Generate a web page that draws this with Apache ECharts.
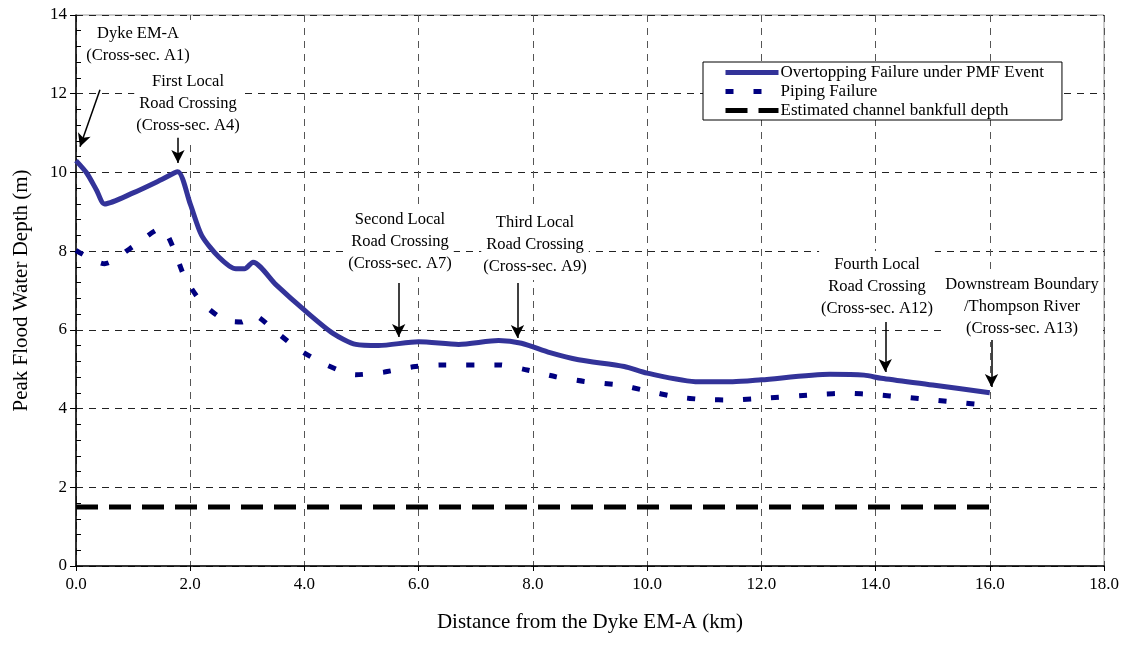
<!DOCTYPE html>
<html>
<head>
<meta charset="utf-8">
<script src="https://cdn.jsdelivr.net/npm/echarts@6/dist/echarts.min.js"></script>
<style>html,body{margin:0;padding:0;background:#fff}#c{width:1132px;height:646px}</style>
</head>
<body>
<div id="c"></div>
<script>
// ---- data ----
const seriesNames = ['Overtopping Failure under PMF Event', 'Piping Failure', 'Estimated channel bankfull depth'];
const overtoppingX = [0, 0.19, 0.36, 0.5, 1.0, 1.5, 1.78, 2.0, 2.2, 2.5, 2.8, 2.95, 3.1, 3.5, 4.0, 4.5, 4.9, 5.3, 6.0, 6.7, 7.4, 7.8, 8.3, 8.8, 9.6, 10.0, 10.9, 11.5, 12.0, 13.2, 13.8, 14.1, 15.0, 16.0];
const overtoppingY = [10.3, 9.98, 9.55, 9.2, 9.48, 9.82, 10.02, 9.2, 8.4, 7.85, 7.55, 7.55, 7.72, 7.15, 6.5, 5.91, 5.63, 5.6, 5.7, 5.63, 5.73, 5.66, 5.42, 5.24, 5.07, 4.9, 4.68, 4.68, 4.73, 4.87, 4.85, 4.77, 4.6, 4.4];
const pipingX = [0, 0.5, 1.0, 1.5, 1.7, 1.9, 2.2, 2.6, 2.9, 3.1, 3.5, 3.9, 4.4, 4.9, 5.4, 5.9, 6.4, 7.4, 7.9, 8.4, 8.9, 9.5, 10.0, 10.5, 11.0, 11.5, 12.0, 13.0, 13.5, 14.0, 14.5, 15.0, 15.5, 16.0];
const pipingY = [8.02, 7.68, 8.12, 8.58, 8.1, 7.35, 6.7, 6.25, 6.2, 6.38, 5.95, 5.5, 5.1, 4.86, 4.93, 5.06, 5.11, 5.11, 4.98, 4.81, 4.69, 4.6, 4.45, 4.3, 4.23, 4.22, 4.26, 4.36, 4.39, 4.35, 4.29, 4.22, 4.15, 4.08];
const bankfullX = [0, 16];
const bankfullY = [1.5, 1.5];
const xTicks = [0, 2, 4, 6, 8, 10, 12, 14, 16, 18];
const yTicks = [0, 2, 4, 6, 8, 10, 12, 14];
// annotation texts and arrow (from -> to) in data units
const annoLabels = [
  'Dyke EM-A\n(Cross-sec. A1)',
  'First Local\nRoad Crossing\n(Cross-sec. A4)',
  'Second Local\nRoad Crossing\n(Cross-sec. A7)',
  'Third Local\nRoad Crossing\n(Cross-sec. A9)',
  'Fourth Local\nRoad Crossing\n(Cross-sec. A12)',
  'Downstream Boundary\n/Thompson River\n(Cross-sec. A13)'
];
const arrowFromX = [0.42, 1.785, 5.65, 7.73, 14.17, 16.03];
const arrowFromY = [12.1, 10.88, 7.19, 7.19, 6.2, 5.74];
const arrowToX = [0.07, 1.785, 5.65, 7.73, 14.17, 16.03];
const arrowToY = [10.65, 10.24, 5.82, 5.79, 4.93, 4.55];

const zip = (xs, ys) => xs.map((x, i) => [x, ys[i]]);
const FONT = '"Liberation Serif", "Times New Roman", serif';

// label pixel anchors (center x, top y of the white text box)
const labelPos = [[138, 20], [188, 68], [400, 206], [535, 209], [877, 251], [1022, 271]];

const chart = echarts.init(document.getElementById('c'), null, {renderer: 'canvas'});
const grid = {left: 76, top: 15, right: 28, bottom: 80, show: true, borderColor: '#999', borderWidth: 1};

const arrowData = arrowFromX.map((fx, i) => [
  {coord: [fx, arrowFromY[i]]},
  {coord: [arrowToX[i], arrowToY[i]]}
]);

chart.setOption({
  animation: false,
  textStyle: {fontFamily: FONT, color: '#000'},
  grid: grid,
  legend: {
    orient: 'vertical', left: 703, top: 62,
    itemWidth: 53, itemHeight: 12, itemGap: 2,
    padding: [2, 18, 1, 20],
    borderColor: '#000', borderWidth: 1, backgroundColor: '#fff',
    itemStyle: {opacity: 0},
    lineStyle: {width: 5},
    textStyle: {fontFamily: FONT, fontSize: 17, color: '#000', padding: [0, 0, 0, -3]},
    data: seriesNames
  },
  xAxis: {
    type: 'value', min: 0, max: 18, interval: 2,
    name: 'Distance from the Dyke EM-A (km)', nameLocation: 'middle', nameGap: 46,
    nameTextStyle: {fontFamily: FONT, fontSize: 21, color: '#000'},
    axisLine: {onZero: false, lineStyle: {color: '#000', width: 1.5}},
    axisTick: {show: true, length: 5, lineStyle: {color: '#000'}},
    axisLabel: {fontFamily: FONT, fontSize: 17, color: '#000', margin: 10,
      formatter: v => xTicks.includes(v) ? v.toFixed(1) : ''},
    splitLine: {show: true, lineStyle: {color: '#555', type: [7, 6], width: 1}}
  },
  yAxis: [{
    type: 'value', min: 0, max: 14, interval: 2,
    name: 'Peak Flood Water Depth (m)', nameLocation: 'middle', nameGap: 44,
    nameTextStyle: {fontFamily: FONT, fontSize: 21, color: '#000'},
    axisLine: {show: true, onZero: false, lineStyle: {color: '#000', width: 1.5}},
    axisTick: {show: true, length: 6, lineStyle: {color: '#000'}},
    axisLabel: {fontFamily: FONT, fontSize: 17, color: '#000', margin: 9,
      formatter: v => yTicks.includes(v) ? String(v) : ''},
    splitLine: {show: true, lineStyle: {color: '#222', type: [7, 6], width: 1}}
  }, {
    type: 'value', min: 0, max: 14, interval: 2, position: 'left',
    axisLine: {show: false}, axisLabel: {show: false}, splitLine: {show: false},
    axisTick: {show: false, inside: true},
    minorTick: {show: true, splitNumber: 5, length: 5, lineStyle: {color: '#000'}}
  }],
  series: [{
    name: seriesNames[0], type: 'line', data: zip(overtoppingX, overtoppingY),
    showSymbol: false, symbol: 'none', smooth: 0.25, z: 4,
    lineStyle: {color: '#333399', width: 5},
    itemStyle: {color: '#333399'},
    markLine: {
      silent: true, symbol: ['none', 'arrow'], symbolSize: [10, 13],
      label: {show: false},
      lineStyle: {color: '#000', width: 1.5, type: 'solid'},
      data: arrowData
    }
  }, {
    name: seriesNames[1], type: 'line', data: zip(pipingX, pipingY),
    showSymbol: false, symbol: 'none', smooth: 0.25, z: 3,
    lineStyle: {color: '#000080', width: 5, type: [8, 20], cap: 'butt'},
    itemStyle: {color: '#000080'}
  }, {
    name: seriesNames[2], type: 'line', data: zip(bankfullX, bankfullY),
    showSymbol: false, symbol: 'none', z: 3,
    lineStyle: {color: '#000', width: 5, type: [22, 11], cap: 'butt'},
    itemStyle: {color: '#000'}
  }],
  graphic: annoLabels.map((t, i) => ({
    type: 'text', x: labelPos[i][0], y: labelPos[i][1], z: 1,
    style: {text: t, fill: '#000', font: '16.5px ' + FONT, align: 'center', verticalAlign: 'top',
      lineHeight: 22, backgroundColor: '#fff', padding: [3, 2, 2, 2]}
  }))
});
</script>
</body>
</html>
